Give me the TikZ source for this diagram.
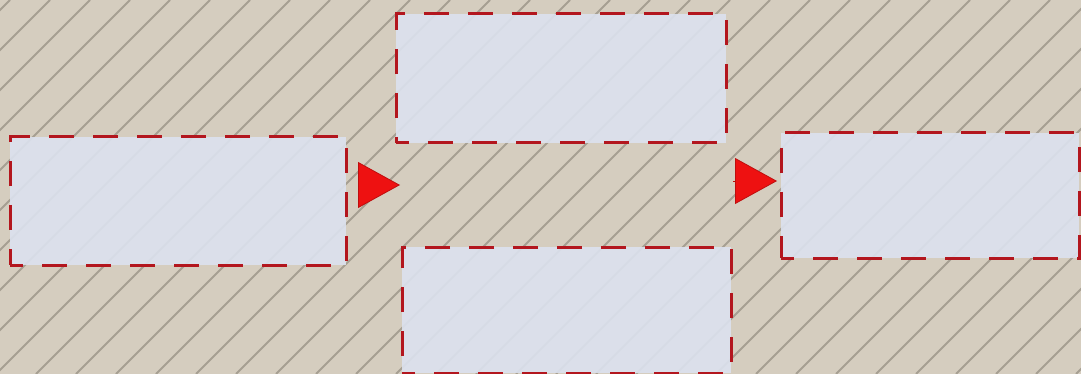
\documentclass[tikz,border=0pt]{standalone}
\usetikzlibrary{arrows.meta}
\definecolor{fondobeige}{HTML}{D5CDBF}
\definecolor{rayagris}{HTML}{A69F92}
\definecolor{cajalila}{HTML}{DCE2EF}
\definecolor{bordeguinda}{HTML}{B3161E}
\definecolor{flecharoja}{HTML}{EE1111}
\tikzset{
  etapa/.style={rectangle, inner sep=0pt, draw=bordeguinda, line width=3pt,
    dash pattern=on 25pt off 19pt, dash phase=12pt,
    fill=cajalila, fill opacity=0.9},
  avance/.style={draw=flecharoja!80!black, line width=0.8pt,
    -{Triangle[length=42pt, width=46pt, fill=flecharoja]}}
}
\begin{document}
\begin{tikzpicture}[x=1pt, y=-1pt]
  % Fondo rayado
  \fill[fondobeige] (0,0) rectangle (1081,374);
  \useasboundingbox (0,0) rectangle (1081,374);
  \begin{scope}
    \clip (0,0) rectangle (1081,374);
    \foreach \c in {-30,10,...,1490} {
      \draw[rayagris, line width=1.8pt] (\c,0) -- (\c-374,374);
    }
  \end{scope}
  % Etapas
  \node[etapa, minimum width=336pt, minimum height=128pt] (origen) at (178,201) {};
  \node[etapa, minimum width=330pt, minimum height=129pt] (ramaalta) at (561,78.5) {};
  \node[etapa, minimum width=329pt, minimum height=126pt] (ramabaja) at (566.5,310) {};
  \node[etapa, minimum width=298pt, minimum height=125pt] (destino) at (930,195.5) {};
  % Flechas entre etapas
  \coordinate (sal1) at (358,185);
  \coordinate (ent1) at (400,185);
  \coordinate (sal2) at (733,181);
  \coordinate (ent2) at (777,181);
  \draw[avance] (sal1) -- (ent1);
  \draw[avance] (sal2) -- (ent2);
\end{tikzpicture}
\end{document}
